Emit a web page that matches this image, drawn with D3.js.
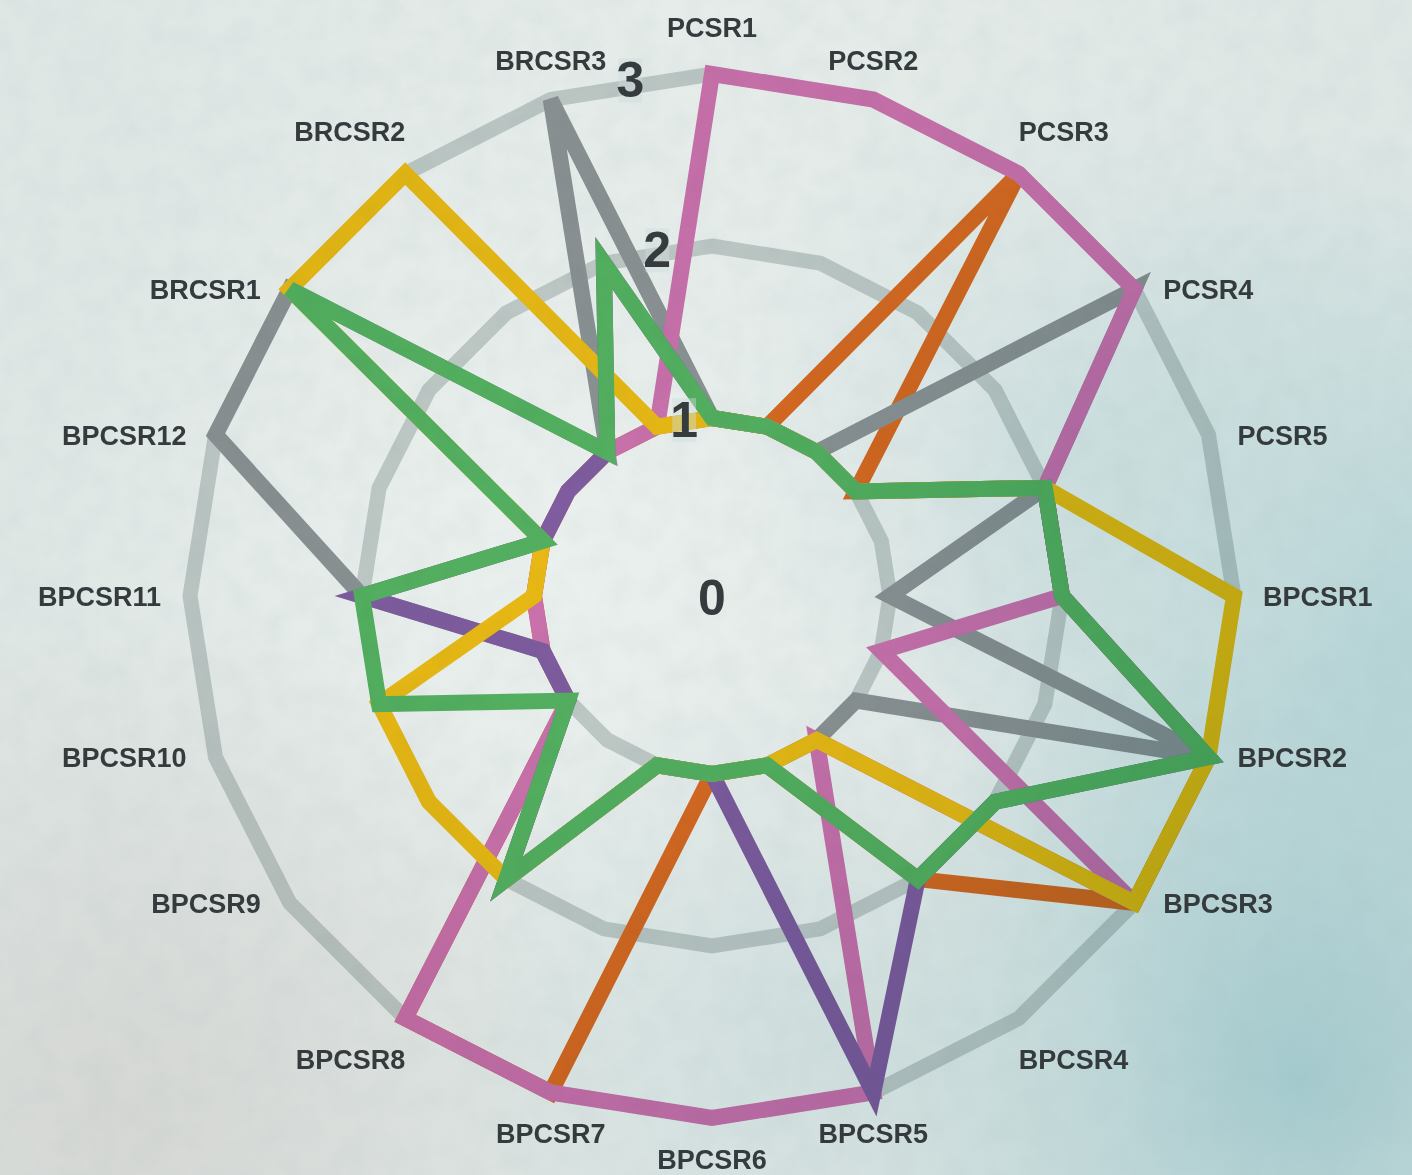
<!DOCTYPE html>
<html>
<head>
<meta charset="utf-8">
<script src="https://cdn.jsdelivr.net/npm/d3@7"></script>
<style>
  body { margin: 0; overflow: hidden; background: #e1e8e6; }
  svg { display: block; }
</style>
</head>
<body>
<div id="chart"></div>
<script>
// axes, clockwise from the top
const axes = ["PCSR1","PCSR2","PCSR3","PCSR4","PCSR5","BPCSR1","BPCSR2","BPCSR3","BPCSR4","BPCSR5",
  "BPCSR6","BPCSR7","BPCSR8","BPCSR9","BPCSR10","BPCSR11","BPCSR12","BRCSR1","BRCSR2","BRCSR3"]
const ringTicks = [0, 1, 2, 3]

// series values (drawn bottom to top)
const orangeValues = [1,1,3,1,2,2,3,3,2,1,1,3,3,1,1,1,1,1,1,1]
const grayValues   = [1,1,1,3,2,1,3,1,1,1,1,1,2,1,1,2,3,3,1,3]
const pinkValues   = [3,3,3,3,2,2,1,3,1,3,3,3,3,1,1,1,1,1,1,1]
const purpleValues = [1,1,1,1,2,2,3,2,2,3,1,1,2,1,1,2,1,1,1,2]
const yellowValues = [1,1,1,1,2,3,3,3,1,1,1,1,2,2,2,1,1,3,3,1]
const greenValues  = [1,1,1,1,2,2,3,2,2,1,1,1,2,1,2,2,1,3,1,2]

const seriesColors = ["#ec7024","#979b9e","#dc78b8","#8a62aa","#fcc416","#5bbb67"]

const width = 1412, height = 1175
const cx = 712, cy = 596

const svg = d3.select("#chart").append("svg")
  .attr("width", width).attr("height", height)

drawBackground(svg)

const angle = d3.scaleLinear().domain([0, axes.length]).range([0, 2 * Math.PI])
const r = d3.scaleLinear().domain([0, 3]).range([6, 522])

const radarLine = d3.lineRadial()
  .angle((d, i) => angle(i))
  .radius(d => r(d))
  .curve(d3.curveLinearClosed)

const plot = svg.append("g")
  .attr("transform", `translate(${cx},${cy})`)
  .style("mix-blend-mode", "multiply")

// grid rings
plot.selectAll(".ring").data(ringTicks.filter(t => t > 0)).enter()
  .append("path").attr("class", "ring")
  .attr("d", t => radarLine(axes.map(() => t)))
  .attr("fill", "none").attr("stroke", "#d0d6d5").attr("stroke-width", 15)
  .attr("stroke-linejoin", "miter")

const series = [orangeValues, grayValues, pinkValues, purpleValues, yellowValues, greenValues]

plot.selectAll(".series").data(series).enter()
  .append("path").attr("class", "series")
  .attr("d", d => radarLine(d))
  .attr("fill", "none")
  .attr("stroke", (d, i) => seriesColors[i])
  .attr("stroke-width", 16)
  .attr("stroke-linejoin", "miter")
  .attr("stroke-miterlimit", 4)

// axis labels
const labels = svg.append("g").attr("transform", `translate(${cx},${cy})`)
axes.forEach((name, i) => {
  const a = angle(i)
  const s = Math.sin(a), c = Math.cos(a)
  const vx = r(3) * s, vy = -r(3) * c
  let x = vx, y = vy, anchor = "middle", base = "central"
  if (Math.abs(c) > 0.75) {
    anchor = Math.abs(s) < 0.4 ? "middle" : (s > 0 ? "start" : "end")
    const gap = Math.abs(s) < 0.1 ? 31 : (Math.abs(s) < 0.4 ? 24 : 27)
    if (c > 0) { y = vy - gap; base = "text-after-edge" } else { y = vy + 27; base = "text-before-edge" }
  } else {
    anchor = s > 0 ? "start" : "end"
    x = vx + (s > 0 ? 29 : -29)
    y = vy + 1
  }
  labels.append("text")
    .attr("x", x).attr("y", y)
    .attr("text-anchor", anchor).attr("dominant-baseline", base)
    .attr("font-family", "'Liberation Sans', Arial, sans-serif")
    .attr("font-weight", "bold").attr("font-size", "27px")
    .attr("fill", "#353b3d")
    .text(name)
})

// ring tick labels
const tickAngle = -Math.PI / 20
ringTicks.forEach(t => {
  const rr = t === 0 ? 0 : r(t)
  const g = labels.append("g")
    .attr("transform", `translate(${rr * Math.sin(tickAngle)},${-rr * Math.cos(tickAngle) + (t === 0 ? 2 : 0)})`)
  const txt = g.append("text")
    .attr("text-anchor", "middle").attr("dominant-baseline", "central")
    .attr("font-family", "'Liberation Sans', Arial, sans-serif")
    .attr("font-weight", "bold").attr("font-size", "50px")
    .attr("fill", "#363b3d")
    .text(t)
  const bb = txt.node().getBBox()
  if (t > 0) {
    g.insert("rect", "text")
      .attr("x", bb.x + 2).attr("y", bb.y + 6)
      .attr("width", bb.width - 4).attr("height", bb.height - 12)
      .attr("fill", "#cfdedb").attr("opacity", 0.45)
  }
})

function drawBackground(svg) {
  const defs = svg.append("defs")
  const blobs = [
    { id: "bgCenter", x: 560, y: 560, r: 520, color: "#eef3f1", o: 0.8 },
    { id: "bgLeftLow", x: 120, y: 1120, r: 520, color: "#d4d6d3", o: 0.95 },
    { id: "bgRight", x: 1420, y: 640, r: 520, color: "#aed1d4", o: 0.85 },
    { id: "bgRightLow", x: 1300, y: 1080, r: 460, color: "#96c3c8", o: 0.8 },
    { id: "bgMidRight", x: 1080, y: 420, r: 360, color: "#c3dadb", o: 0.6 },
    { id: "bgBottom", x: 820, y: 1050, r: 380, color: "#c4d8d8", o: 0.6 },
    { id: "bgTop", x: 700, y: 0, r: 600, color: "#e8eeec", o: 0.7 }
  ]
  blobs.forEach(b => {
    const grad = defs.append("radialGradient").attr("id", b.id)
      .attr("gradientUnits", "userSpaceOnUse")
      .attr("cx", b.x).attr("cy", b.y).attr("r", b.r)
    grad.append("stop").attr("offset", "0%").attr("stop-color", b.color).attr("stop-opacity", b.o)
    grad.append("stop").attr("offset", "100%").attr("stop-color", b.color).attr("stop-opacity", 0)
  })

  const noise = defs.append("filter").attr("id", "paper")
    .attr("x", 0).attr("y", 0).attr("width", "100%").attr("height", "100%")
  noise.append("feTurbulence").attr("type", "fractalNoise")
    .attr("baseFrequency", "0.035").attr("numOctaves", 4).attr("seed", 7)
  noise.append("feColorMatrix").attr("type", "matrix")
    .attr("values", "0 0 0 0 0.35  0 0 0 0 0.45  0 0 0 0 0.47  0 0 0 0.9 -0.3")

  svg.append("rect").attr("width", width).attr("height", height).attr("fill", "#dfe7e5")
  blobs.forEach(b => {
    svg.append("rect").attr("width", width).attr("height", height).attr("fill", `url(#${b.id})`)
  })
  svg.append("rect").attr("width", width).attr("height", height)
    .attr("filter", "url(#paper)").attr("opacity", 0.18)
}
</script>
</body>
</html>
